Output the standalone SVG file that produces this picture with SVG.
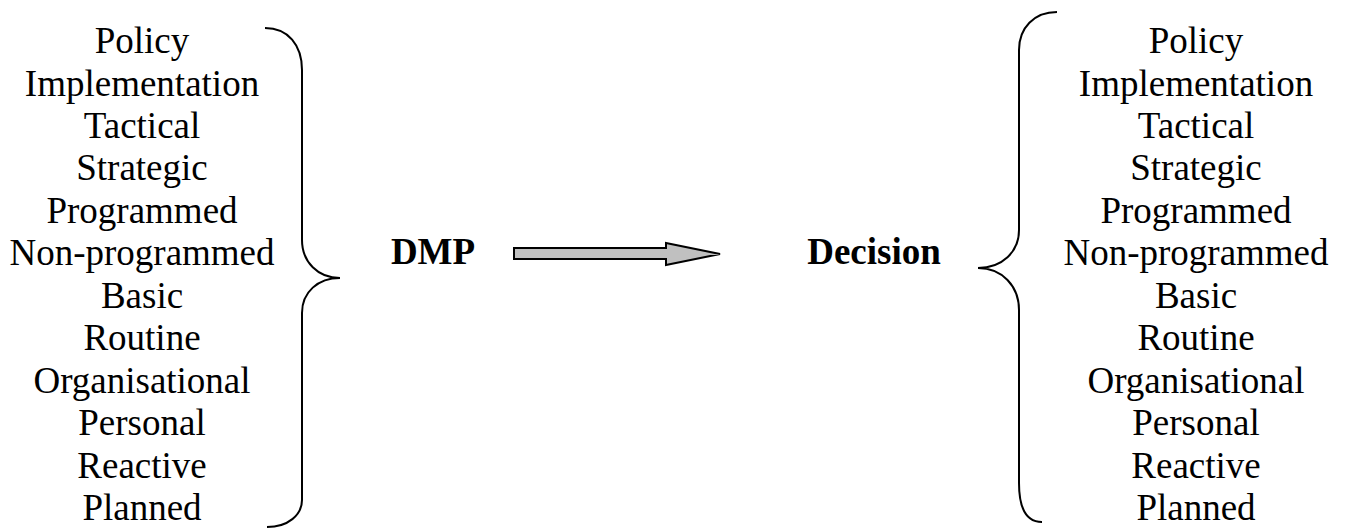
<svg xmlns="http://www.w3.org/2000/svg" width="1348" height="528" viewBox="0 0 1348 528">
<style>
.t{font-family:"Liberation Serif","Times New Roman",serif;font-size:37px;fill:#000;text-anchor:middle}
.b{font-family:"Liberation Serif","Times New Roman",serif;font-size:37px;font-weight:bold;fill:#000;text-anchor:middle}
.brace{fill:none;stroke:#000;stroke-width:2}
.arrow{fill:#c0c0c0;stroke:#000;stroke-width:2;stroke-linejoin:miter}
</style>
<rect width="1348" height="528" fill="#fff"/>
<g id="left-list">
<text class="t" x="142" y="53">Policy</text>
<text class="t" x="142" y="95.5">Implementation</text>
<text class="t" x="142" y="138">Tactical</text>
<text class="t" x="142" y="180.4">Strategic</text>
<text class="t" x="142" y="222.8">Programmed</text>
<text class="t" x="142" y="265.3">Non-programmed</text>
<text class="t" x="142" y="307.7">Basic</text>
<text class="t" x="142" y="350.2">Routine</text>
<text class="t" x="142" y="392.6">Organisational</text>
<text class="t" x="142" y="435">Personal</text>
<text class="t" x="142" y="477.5">Reactive</text>
<text class="t" x="142" y="520">Planned</text>
</g>
<g id="left-brace">
<path class="brace" d="M265,28 C288,28 302,45 302,70 L302,240 C302,262 318,278 340,278 C318,278 302,292 302,313 L302,500 C302,515 288,527 267,527"/>
</g>
<g id="dmp">
<text class="b" x="433" y="264">DMP</text>
</g>
<g id="connectors">
<path class="arrow" d="M514,248 L666,248 L666,243 L720,254 L666,265 L666,259 L514,259 Z"/>
</g>
<g id="decision">
<text class="b" x="874" y="264">Decision</text>
</g>
<g id="right-brace">
<path class="brace" d="M1057,12 C1034,12 1019,28 1019,50 L1019,230 C1019,252 1002,268 978,268 C1002,268 1019,286 1019,310 L1019,483 C1019,505 1024,522 1042,522"/>
</g>
<g id="right-list">
<text class="t" x="1196" y="53">Policy</text>
<text class="t" x="1196" y="95.5">Implementation</text>
<text class="t" x="1196" y="138">Tactical</text>
<text class="t" x="1196" y="180.4">Strategic</text>
<text class="t" x="1196" y="222.8">Programmed</text>
<text class="t" x="1196" y="265.3">Non-programmed</text>
<text class="t" x="1196" y="307.7">Basic</text>
<text class="t" x="1196" y="350.2">Routine</text>
<text class="t" x="1196" y="392.6">Organisational</text>
<text class="t" x="1196" y="435">Personal</text>
<text class="t" x="1196" y="477.5">Reactive</text>
<text class="t" x="1196" y="520">Planned</text>
</g>
</svg>
